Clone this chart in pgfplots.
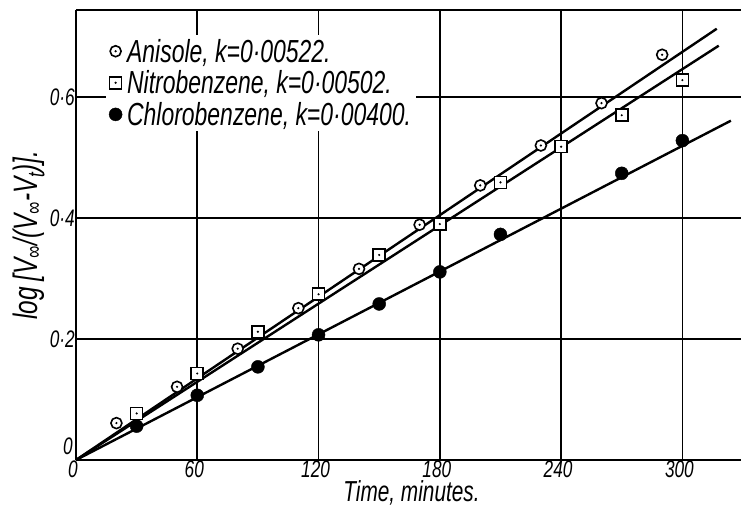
\documentclass[border=0pt]{standalone}
\usepackage{fontspec}
\setmainfont{Liberation Sans}[FakeStretch=0.72]
\usepackage{pgfplots}
\pgfplotsset{compat=1.18}
\pgfdeclareplotmark{odot}{%
  \pgfpathcircle{\pgfpointorigin}{\pgfplotmarksize}%
  \pgfusepathqfillstroke
  \pgfscope
  \pgfsetfillcolor{black}%
  \pgfpathcircle{\pgfpointorigin}{0.22\pgfplotmarksize}%
  \pgfusepathqfill
  \endpgfscope}
\pgfdeclareplotmark{sqdot}{%
  \pgfpathrectangle{\pgfpoint{-\pgfplotmarksize}{-\pgfplotmarksize}}{\pgfpoint{2\pgfplotmarksize}{2\pgfplotmarksize}}%
  \pgfusepathqfillstroke
  \pgfscope
  \pgfsetfillcolor{black}%
  \pgfpathcircle{\pgfpointorigin}{0.2\pgfplotmarksize}%
  \pgfusepathqfill
  \endpgfscope}
\newcommand\tickfont{\fontsize{24}{25}\selectfont\itshape}
\newcommand\labfont{\fontsize{29}{31}\selectfont\itshape}
\newcommand\ylabfont{\fontsize{34}{36}\selectfont\itshape}
\newcommand\legfont{\fontsize{32}{32}\selectfont\itshape}
\begin{document}
\begin{tikzpicture}
\begin{axis}[
  name=ax,
  scale only axis,
  width=665bp, height=450bp,
  xmin=0, xmax=329, ymin=0, ymax=0.744,
  axis x line=box, axis y line=left,
  axis line style={-, line width=2.6bp, black},
  major tick length=0pt,
  xtick={0,60,120,180,240,300},
  xticklabels={0,60,120,180,240,300},
  ytick={0.2,0.4,0.6},
  yticklabels={0·2,0·4,0·6},
  extra y ticks={0}, extra y tick labels={0},
  extra y tick style={yticklabel style={yshift=14bp, xshift=-2bp}},
  grid=major,
  major grid style={black, line width=1.6bp},
  xticklabel style={font=\tickfont, inner sep=0.5bp, xshift=-3bp},
  yticklabel style={font=\tickfont, inner sep=2bp, xshift=1bp},
  xlabel={Time, minutes.},
  xlabel style={font=\labfont, inner sep=0.5bp, xshift=3bp, yshift=-1.5bp},
  ylabel={log\,[V\textsubscript{∞}/(V\textsubscript{∞}-V\textsubscript{t})].},
  ylabel style={font=\ylabfont, inner sep=1bp, yshift=2bp},
  legend cell align=left,
  legend style={fill=white, draw=none, at={(rel axis cs:0.045,0.945)}, anchor=north west,
    font=\legfont, inner xsep=3bp, inner ysep=2bp, row sep=3bp, column sep=3bp},
  clip=false,
]
% fitted lines
\addplot[black, line width=2.4bp, forget plot] coordinates {(0,0) (317,0.713)};
\addplot[black, line width=2.4bp, forget plot] coordinates {(0,0) (318,0.685)};
\addplot[black, line width=2.4bp, forget plot] coordinates {(0,0) (324,0.561)};
% Anisole
\addplot[only marks, mark=odot, mark size=5.5bp, mark options={fill=white, draw=black, line width=1.6bp}]
 coordinates {(20,0.061) (50,0.121) (80,0.184) (110,0.251) (140,0.316) (170,0.389) (200,0.454) (230,0.520) (260,0.590) (290,0.670)};
\addlegendentry{Anisole, k=0·00522.}
% Nitrobenzene
\addplot[only marks, mark=sqdot, mark size=6bp, mark options={fill=white, draw=black, line width=1.6bp}]
 coordinates {(30,0.077) (60,0.143) (90,0.212) (120,0.274) (150,0.339) (180,0.390) (210,0.459) (240,0.518) (270,0.570) (300,0.628)};
\addlegendentry{Nitrobenzene, k=0·00502.}
% Chlorobenzene
\addplot[only marks, mark=*, mark size=6.5bp, mark options={fill=black, draw=black}]
 coordinates {(30,0.056) (60,0.107) (90,0.154) (120,0.207) (150,0.258) (180,0.311) (210,0.373) (270,0.474) (300,0.528)};
\addlegendentry{Chlorobenzene, k=0·00400.}
\end{axis}
\pgfresetboundingbox
\path (ax.south west) ++(-76bp,-49bp) rectangle ++(741bp,509bp);
\end{tikzpicture}
\end{document}
